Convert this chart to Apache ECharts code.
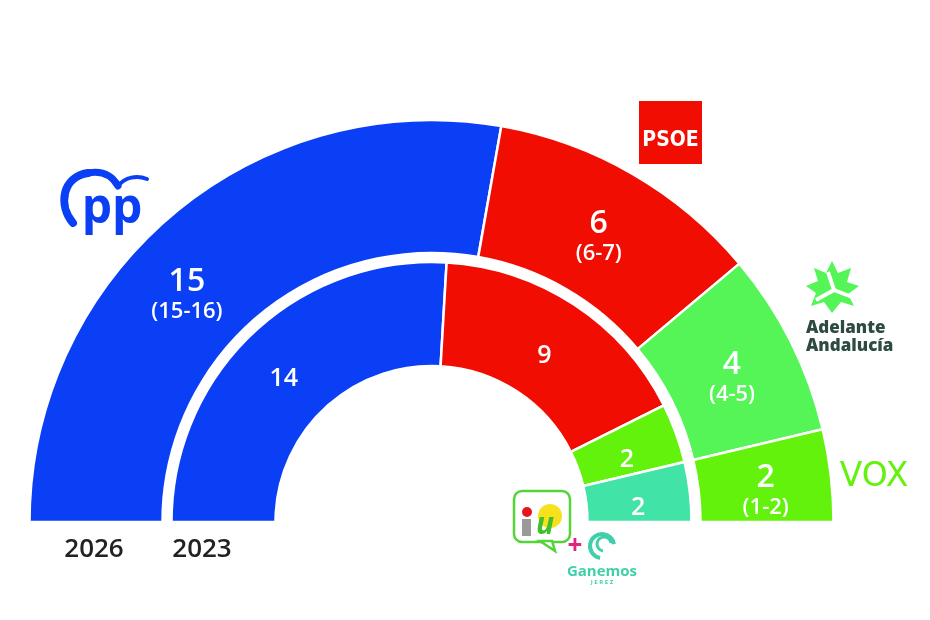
<!DOCTYPE html>
<html><head><meta charset="utf-8">
<script src="https://cdn.jsdelivr.net/npm/echarts@6/dist/echarts.min.js"></script>
<style>html,body{margin:0;padding:0;background:#fff}#c{width:930px;height:620px}</style>
</head><body><div id="c"></div>
<script>
// 2026 projection (outer ring)
const outerParties = ['PP', 'PSOE', 'Adelante Andalucía', 'VOX'];
const outerSeats = [15, 6, 4, 2];
const outerRanges = ['(15-16)', '(6-7)', '(4-5)', '(1-2)'];
// 2023 result (inner ring)
const innerParties = ['PP', 'PSOE', 'VOX', 'IU + Ganemos'];
const innerSeats = [14, 9, 2, 2];
const yearLabels = ['2026', '2023'];

const colors = {
  'PP': '#0a3ff6',
  'PSOE': '#f20d03',
  'Adelante Andalucía': '#55f558',
  'VOX': '#62f20c',
  'IU + Ganemos': '#42e3a6'
};
const FONT = '"Open Sans", "Noto Sans", sans-serif';

const chart = echarts.init(document.getElementById('c'), null, {renderer: 'canvas'});

const outerData = outerParties.map((p, i) => {
  const d = {name: p, value: outerSeats[i], range: outerRanges[i], itemStyle: {color: colors[p]}};
  if (i === 0) d.label = {offset: [-27, 33]};
  return d;
});
const innerData = innerParties.map((p, i) => ({
  name: p, value: innerSeats[i],
  itemStyle: {color: colors[p]}
}));

const CX = 431.5, CY = 522;

chart.setOption({
  animation: false,
  backgroundColor: '#fff',
  series: [
    {
      type: 'pie', center: [CX, CY], radius: [269, 402],
      startAngle: 180, endAngle: 0, clockwise: true,
      silent: true, avoidLabelOverlap: false,
      itemStyle: {borderColor: '#fff', borderWidth: 2.5},
      label: {
        show: true, position: 'inside', offset: [-2, 9],
        formatter: p => '{a|' + p.value + '}\n{b|' + p.data.range + '}',
        rich: {
          a: {fontFamily: FONT, fontSize: 32, fontWeight: 600, color: '#fff', lineHeight: 32},
          b: {fontFamily: FONT, fontSize: 22, fontWeight: 600, color: '#fff', lineHeight: 28}
        }
      },
      labelLine: {show: false},
      data: outerData
    },
    {
      type: 'pie', center: [CX, CY], radius: [156, 260],
      startAngle: 180, endAngle: 0, clockwise: true,
      silent: true, avoidLabelOverlap: false,
      itemStyle: {borderColor: '#fff', borderWidth: 2.5},
      label: {
        show: true, position: 'inside', offset: [-3, 10],
        formatter: p => String(p.value),
        fontFamily: FONT, fontSize: 25, fontWeight: 600, color: '#fff'
      },
      labelLine: {show: false},
      data: innerData
    }
  ],
  graphic: [
    // year labels
    {type: 'text', x: 94, y: 550, style: {text: yearLabels[0], font: '600 26px ' + FONT, fill: '#222', align: 'center', verticalAlign: 'middle'}},
    {type: 'text', x: 202, y: 550, style: {text: yearLabels[1], font: '600 26px ' + FONT, fill: '#222', align: 'center', verticalAlign: 'middle'}},
    // PP logo
    {type: 'bezierCurve', shape: {x1: 73, y1: 223, cpx1: 58, cpy1: 205, cpx2: 62, cpy2: 177, x2: 88, y2: 173},
     style: {stroke: '#0a3ff6', lineWidth: 8, fill: null, lineCap: 'round'}},
    {type: 'bezierCurve', shape: {x1: 88, y1: 173, cpx1: 104, cpy1: 170, cpx2: 113, cpy2: 177, x2: 118, y2: 186},
     style: {stroke: '#0a3ff6', lineWidth: 7, fill: null, lineCap: 'round'}},
    {type: 'bezierCurve', shape: {x1: 118, y1: 186, cpx1: 125, cpy1: 177, cpx2: 137, cpy2: 175, x2: 147, y2: 179},
     style: {stroke: '#0a3ff6', lineWidth: 4, fill: null, lineCap: 'round'}},
    {type: 'text', x: 112, y: 209, style: {text: 'pp', font: 'bold 48px ' + FONT, fill: '#0a3ff6', align: 'center', verticalAlign: 'middle'}},
    // PSOE logo
    {type: 'rect', shape: {x: 639, y: 101, width: 63, height: 63}, style: {fill: '#f20d03'}},
    {type: 'text', x: 670.5, y: 141, style: {text: 'PSOE', font: 'bold 21px "DejaVu Sans Condensed", ' + FONT, fill: '#fff', align: 'center', verticalAlign: 'middle'}},
    // Adelante Andalucía logo
    {type: 'polygon', shape: {points: [
      [832, 261], [838, 273], [851, 268], [847, 282], [859, 286], [848, 294], [854, 306],
      [841, 302], [832, 313], [824, 302], [811, 306], [816, 293], [806, 286], [818, 281], [814, 268], [826, 273]
    ]}, style: {fill: '#55f558'}},
    {type: 'polyline', shape: {points: [[828, 272], [834, 290], [816, 300]]}, style: {stroke: '#fff', lineWidth: 4, fill: null}},
    {type: 'polyline', shape: {points: [[834, 290], [852, 297]]}, style: {stroke: '#fff', lineWidth: 4, fill: null}},
    {type: 'text', x: 806, y: 319, style: {text: 'Adelante\nAndalucía', font: '800 17px ' + FONT, fill: '#2e4b3f', lineHeight: 18}},
    // VOX logo
    {type: 'text', x: 874, y: 477, style: {text: 'VOX', font: 'normal 33px "DejaVu Sans", ' + FONT, fill: '#62f20c', align: 'center', verticalAlign: 'middle'}},
    // IU logo
    {type: 'rect', shape: {x: 514, y: 491, width: 56, height: 51, r: 8}, style: {fill: '#fff', stroke: '#55d43a', lineWidth: 2.5}},
    {type: 'polygon', shape: {points: [[540, 541], [552, 541], [555, 551]]}, style: {fill: '#fff', stroke: '#55d43a', lineWidth: 2.5}},
    {type: 'circle', shape: {cx: 550, cy: 516, r: 12}, style: {fill: '#f6e11c'}},
    {type: 'circle', shape: {cx: 527, cy: 512, r: 5}, style: {fill: '#e8141c'}},
    {type: 'rect', shape: {x: 522, y: 519, width: 9, height: 17}, style: {fill: '#9a9a9a'}},
    {type: 'text', x: 545, y: 525, style: {text: 'u', font: 'italic bold 30px ' + FONT, fill: '#3fbf2a', align: 'center', verticalAlign: 'middle'}},
    {type: 'text', x: 575, y: 547, style: {text: '+', font: 'bold 26px ' + FONT, fill: '#e2247e', align: 'center', verticalAlign: 'middle'}},
    // Ganemos logo
    {type: 'arc', shape: {cx: 602, cy: 546, r: 12, startAngle: Math.PI * 0.55, endAngle: Math.PI * 1.95}, style: {stroke: '#3fcfaa', lineWidth: 4, fill: null}},
    {type: 'arc', shape: {cx: 604, cy: 544, r: 7, startAngle: Math.PI * 0.55, endAngle: Math.PI * 1.95}, style: {stroke: '#3fcfaa', lineWidth: 3, fill: null}},
    {type: 'text', x: 602, y: 572, style: {text: 'Ganemos', font: 'bold 15px ' + FONT, fill: '#3fcfaa', align: 'center', verticalAlign: 'middle'}},
    {type: 'text', x: 602, y: 582, style: {text: 'J E R E Z', font: 'bold 6px ' + FONT, fill: '#3fcfaa', align: 'center', verticalAlign: 'middle'}}
  ]
});
</script>
</body></html>
